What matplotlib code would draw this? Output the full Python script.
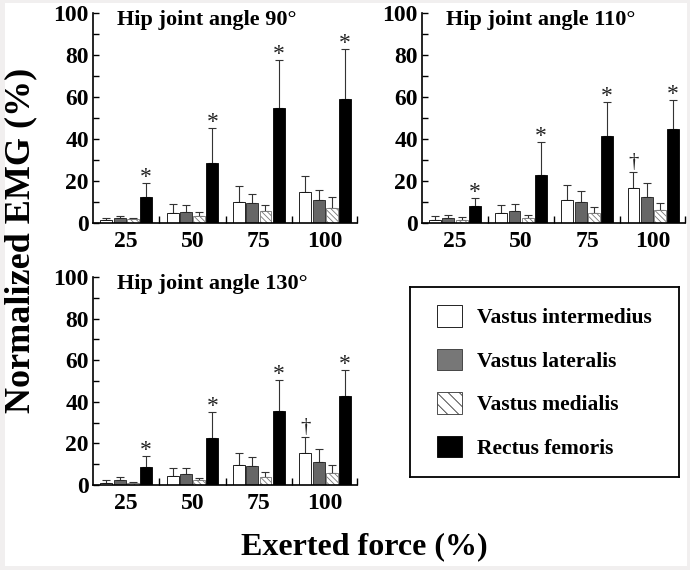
import numpy as np
import matplotlib
matplotlib.use('Agg')
import matplotlib.pyplot as plt
from matplotlib.patches import Patch, Rectangle

plt.rcParams['font.family'] = ['Liberation Serif', 'DejaVu Serif']
plt.rcParams['font.weight'] = 'bold'
plt.rcParams['hatch.linewidth'] = 0.6

# данні
forces = ['25', '50', '75', '100']
muscles = ['Vastus intermedius', 'Vastus lateralis', 'Vastus medialis', 'Rectus femoris']
angles = ['90', '110', '130']

# середні значення (%)
vi_mean = {'90': [1.6, 4.8, 10.0, 14.6], '110': [1.6, 4.8, 11.0, 16.7], '130': [1.1, 4.5, 9.6, 15.5]}
vl_mean = {'90': [2.4, 5.4, 9.4, 11.1], '110': [2.4, 5.6, 10.2, 12.4], '130': [2.2, 5.4, 9.1, 11.2]}
vm_mean = {'90': [1.8, 3.5, 5.6, 7.1], '110': [1.6, 2.4, 4.8, 6.2], '130': [1.1, 2.6, 3.7, 5.6]}
rf_mean = {'90': [12.2, 28.6, 54.8, 59.2], '110': [8.3, 23.0, 41.6, 44.9], '130': [8.8, 22.8, 35.6, 42.7]}

# SD
vi_sd = {'90': [0.6, 4.4, 7.5, 7.6], '110': [1.6, 3.6, 7.3, 7.6], '130': [1.3, 3.5, 5.9, 7.5]}
vl_sd = {'90': [1.1, 3.2, 4.6, 4.8], '110': [1.6, 3.3, 5.0, 6.6], '130': [1.8, 2.6, 4.3, 5.9]}
vm_sd = {'90': [0.5, 1.6, 3.0, 5.1], '110': [1.1, 1.4, 2.8, 3.3], '130': [0.5, 0.9, 2.4, 4.0]}
rf_sd = {'90': [6.8, 16.6, 23.0, 23.7], '110': [3.6, 15.4, 15.9, 13.5], '130': [5.2, 12.3, 15.1, 12.6]}

# групи з позначкою † над VI
dagger = {'90': [], '110': [3], '130': [3]}

styles = [
    dict(facecolor='white', edgecolor='black'),
    dict(facecolor='#666666', edgecolor='#222222'),
    dict(facecolor='white', edgecolor='#777777', hatch='\\\\\\\\\\\\'),
    dict(facecolor='black', edgecolor='black'),
]

fig = plt.figure(figsize=(6.9, 5.7), dpi=100)
fig.patch.set_facecolor('#f1efef')
fig.add_artist(Rectangle((0.007, 0.007), 0.9887, 0.9877, transform=fig.transFigure,
                         facecolor='white', edgecolor='none', zorder=-5))

positions = {
    '90': [0.1348, 0.6088, 0.3826, 0.3684],
    '110': [0.6116, 0.6088, 0.3812, 0.3684],
    '130': [0.1348, 0.1491, 0.3826, 0.3649],
}

x = np.arange(len(forces))
offs = [-0.3, -0.1, 0.1, 0.3]
w = 0.18
xmax = 3.48

for ang in angles:
    ax = fig.add_axes(positions[ang])
    means = [vi_mean[ang], vl_mean[ang], vm_mean[ang], rf_mean[ang]]
    sds = [vi_sd[ang], vl_sd[ang], vm_sd[ang], rf_sd[ang]]
    for k in range(4):
        m = np.array(means[k])
        s = np.array(sds[k])
        ax.bar(x + offs[k], m, w, linewidth=0.6, zorder=2, **styles[k])
        ax.errorbar(x + offs[k], m, yerr=[np.zeros_like(s), s], fmt='none',
                    ecolor='#333333', elinewidth=0.8, capsize=3, capthick=0.8, zorder=1)
    # зірочки над RF
    tops = np.array(rf_mean[ang]) + np.array(rf_sd[ang])
    for i in range(4):
        ax.text(x[i] + offs[3], tops[i], '*', ha='center', va='baseline',
                fontsize=17, fontweight='normal', color='#222222')
    for i in dagger[ang]:
        t = vi_mean[ang][i] + vi_sd[ang][i]
        ax.text(x[i] + offs[0], t + 2.5, '†', ha='center', va='baseline',
                fontsize=15, fontweight='normal', color='#222222')

    ax.set_xlim(-0.5, xmax)
    ax.set_ylim(0, 100)
    ax.set_yticks(np.arange(0, 101, 20))
    ax.set_yticks(np.arange(10, 100, 20), minor=True)
    ax.set_xticks(x)
    ax.set_xticklabels(forces)
    ax.set_xticks([0.5, 1.5, 2.5, xmax], minor=True)
    ax.tick_params(axis='x', which='major', length=0, pad=6, labelsize=17)
    ax.tick_params(axis='x', which='minor', direction='in', length=5, width=1)
    ax.tick_params(axis='y', which='both', direction='in', length=4, width=1, labelsize=17, pad=3)
    for sp in ['top', 'right']:
        ax.spines[sp].set_visible(False)
    for sp in ['left', 'bottom']:
        ax.spines[sp].set_linewidth(1.2)
    ax.text(0.09, 0.965, 'Hip joint angle ' + ang + '°', transform=ax.transAxes,
            fontsize=16, ha='left', va='center')

# легенда
ax_leg = fig.add_axes([0.5942, 0.1632, 0.3899, 0.3333])
ax_leg.set_xticks([])
ax_leg.set_yticks([])
for sp in ax_leg.spines.values():
    sp.set_linewidth(1.3)
handles = [
    Patch(facecolor='white', edgecolor='black', linewidth=0.6),
    Patch(facecolor='#777777', edgecolor='#333333', linewidth=0.6),
    Patch(facecolor='white', edgecolor='#333333', hatch='\\\\\\', linewidth=0.6),
    Patch(facecolor='black', edgecolor='black', linewidth=0.6),
]
ax_leg.legend(handles, muscles, loc='center left', bbox_to_anchor=(0.1, 0.5),
              frameon=False, fontsize=15.5, handlelength=1.15, handleheight=1.15,
              labelspacing=0.95, handletextpad=0.7, borderpad=0, borderaxespad=0)

fig.text(0.030, 0.579, 'Normalized EMG (%)', rotation=90, ha='center', va='center', fontsize=26)
fig.text(0.528, 0.040, 'Exerted force (%)', ha='center', va='center', fontsize=23)

fig.savefig('out.png', dpi=100, facecolor=fig.get_facecolor())
